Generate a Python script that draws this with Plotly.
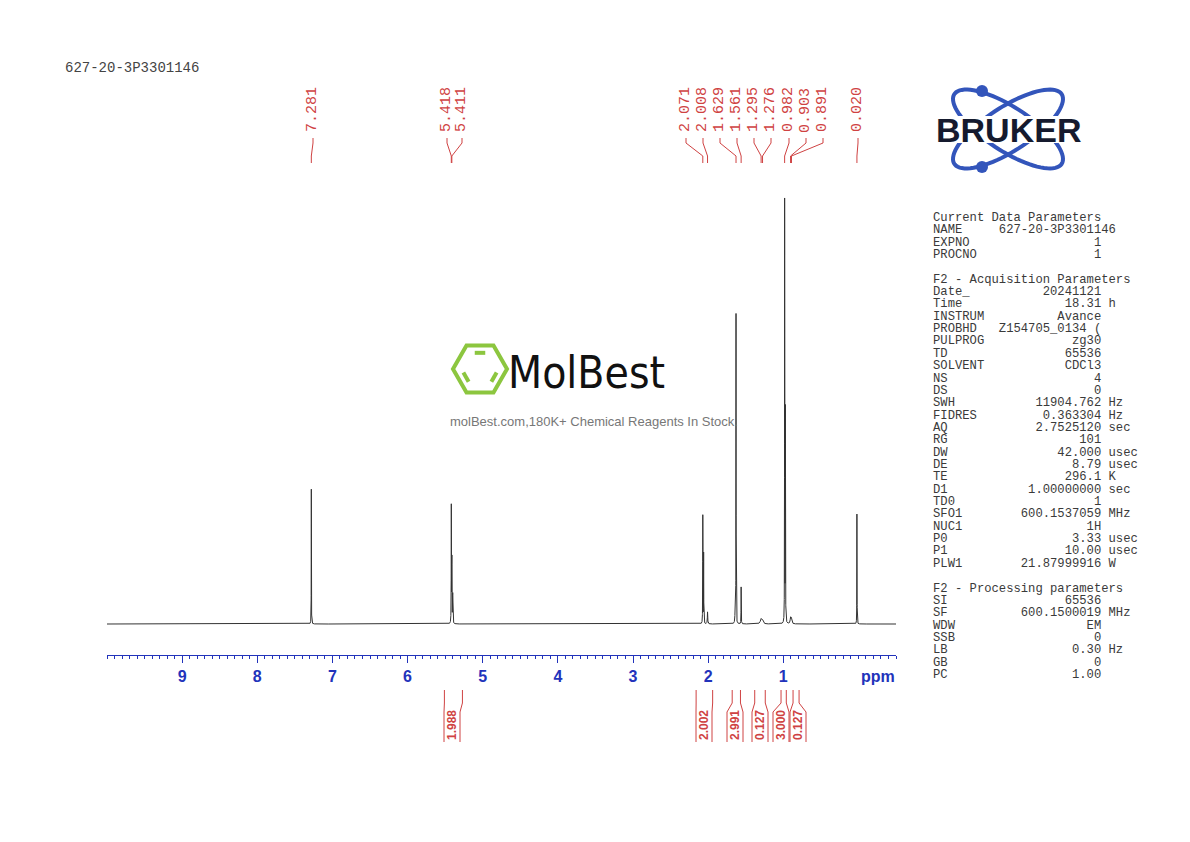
import numpy as np
import plotly.graph_objects as go

W, H = 1190, 842

# peaks: ppm, height, half-width (ppm)
peak_ppm = [7.281, 5.418, 5.411, 5.400, 2.071, 2.060, 2.008, 1.640, 1.629, 1.561,
            1.295, 1.276, 0.982, 0.972, 0.903, 0.891, 0.020]
peak_hgt = [135, 116, 88, 36, 108, 70, 12, 14, 310, 37,
            5, 3, 425, 215, 6, 5, 110]
peak_wid = [0.0012, 0.0015, 0.0015, 0.002, 0.0015, 0.0015, 0.003, 0.004, 0.0012, 0.0015,
            0.012, 0.008, 0.0012, 0.0015, 0.006, 0.006, 0.0012]

label_ppm = [7.281, 5.418, 5.411, 2.071, 2.008, 1.629, 1.561, 1.295, 1.276, 0.982, 0.903, 0.891, 0.020]
label_text = ["7.281", "5.418", "5.411", "2.071", "2.008", "1.629", "1.561", "1.295",
              "1.276", "0.982", "0.903", "0.891", "0.020"]
label_slot = [313, 447, 462, 686, 703, 720, 737, 754, 771, 789, 806, 823, 858]  # px

integ_text = ["1.988", "2.002", "2.991", "0.127", "3.000", "0.127"]
integ_from = [5.51, 2.16, 1.68, 1.38, 1.03, 0.87]
integ_to = [5.27, 1.94, 1.57, 1.24, 0.96, 0.79]
integ_slot = [452, 704, 735, 760, 781, 798]  # px

par_lines = [
    ("Current Data Parameters", "", ""), ("NAME", "627-20-3P3301146", ""), ("EXPNO", "1", ""),
    ("PROCNO", "1", ""), ("", "", ""),
    ("F2 - Acquisition Parameters", "", ""), ("Date_", "20241121", ""), ("Time", "18.31", "h"),
    ("INSTRUM", "Avance", ""), ("PROBHD", "Z154705_0134 (", ""), ("PULPROG", "zg30", ""),
    ("TD", "65536", ""), ("SOLVENT", "CDCl3", ""), ("NS", "4", ""), ("DS", "0", ""),
    ("SWH", "11904.762", "Hz"), ("FIDRES", "0.363304", "Hz"), ("AQ", "2.7525120", "sec"),
    ("RG", "101", ""), ("DW", "42.000", "usec"), ("DE", "8.79", "usec"), ("TE", "296.1", "K"),
    ("D1", "1.00000000", "sec"), ("TD0", "1", ""), ("SFO1", "600.1537059", "MHz"),
    ("NUC1", "1H", ""), ("P0", "3.33", "usec"), ("P1", "10.00", "usec"),
    ("PLW1", "21.87999916", "W"), ("", "", ""),
    ("F2 - Processing parameters", "", ""), ("SI", "65536", ""), ("SF", "600.1500019", "MHz"),
    ("WDW", "EM", ""), ("SSB", "0", ""), ("LB", "0.30", "Hz"), ("GB", "0", ""), ("PC", "1.00", ""),
]

RED = "#cf4242"
BLUE = "#2233bb"

# axis mapping (ppm -> px) for annotation placement
X0, X1 = 107, 896
P0, P1 = 10.0, -0.5
OFF = 8  # page body margin


def ppm_px(p):
    return X0 + (P0 - p) / (P0 - P1) * (X1 - X0)


def px(x):
    return (x - OFF) / W


def py(y):
    return 1 - (y - OFF) / H


def note(xp, yp, text, font, angle=0, xanchor="center"):
    return dict(x=px(xp), y=py(yp), xref="paper", yref="paper", text=text, textangle=angle,
                showarrow=False, xanchor=xanchor, yanchor="middle", font=font)


x = np.linspace(P0, P1, 40000)
y = np.zeros_like(x)
for c, h, w in zip(peak_ppm, peak_hgt, peak_wid):
    y += h * w**2 / ((x - c) ** 2 + w**2)

fig = go.Figure(go.Scatter(x=x, y=y, mode="lines", line=dict(color="#333333", width=1),
                           hoverinfo="skip"))

shapes = []
annos = []

# peak labels + leaders
for t, slot, p in zip(label_text, label_slot, label_ppm):
    annos.append(note(slot, 110, t, dict(family="Liberation Mono", size=15, color=RED), -90))
    pk = ppm_px(p)
    path = (f"M {px(slot)},{py(138)} L {px(slot)},{py(143)} L {px(pk)},{py(156)} "
            f"L {px(pk)},{py(163)}")
    shapes.append(dict(type="path", path=path, xref="paper", yref="paper",
                       line=dict(color=RED, width=1)))

# integrals
for t, a, b, slot in zip(integ_text, integ_from, integ_to, integ_slot):
    xa, xb = ppm_px(a), ppm_px(b)
    for e, bx in ((xa, slot - 8), (xb, slot + 8)):
        path = f"M {px(e)},{py(690)} L {px(e)},{py(703)} L {px(bx)},{py(712)} L {px(bx)},{py(742)}"
        shapes.append(dict(type="path", path=path, xref="paper", yref="paper",
                           line=dict(color=RED, width=1)))
    annos.append(note(slot, 725, f"<b>{t}</b>",
                      dict(family="Liberation Sans", size=12, color=RED), -90))

annos.append(note(878, 676, "<b>ppm</b>", dict(family="Liberation Sans", size=16, color=BLUE)))
annos.append(note(63, 68, "627-20-3P3301146",
                  dict(family="Liberation Mono", size=14, color="#444444"), xanchor="left"))

# parameter block
for i, (name, val, unit) in enumerate(par_lines):
    if not val:
        line = name
    elif len(name.ljust(9) + val) > 23:
        line = name.ljust(9) + val
    else:
        line = name.ljust(8) + val.rjust(15)
    if unit:
        line = line + " " + unit
    if line:
        annos.append(note(931, 218 + i * 12.35, line.replace(" ", "\u00a0"),
                          dict(family="Liberation Mono", size=12.2, color="#3a3a3a"),
                          xanchor="left"))

# MolBest watermark
cx, cy, r = 480, 369, 27
hexpts = [(cx + r * np.cos(np.radians(a)), cy + r * np.sin(np.radians(a))) for a in range(0, 360, 60)]
hp = "M " + " L ".join(f"{px(a)},{py(b)}" for a, b in hexpts) + " Z"
shapes.append(dict(type="path", path=hp, xref="paper", yref="paper",
                   line=dict(color="#8cc63f", width=4)))
ri = 17
for a0 in (240, 0, 120):
    a1 = a0 + 60
    p0 = (cx + ri * np.cos(np.radians(a0 + 12)), cy + ri * np.sin(np.radians(a0 + 12)))
    p1 = (cx + ri * np.cos(np.radians(a1 - 12)), cy + ri * np.sin(np.radians(a1 - 12)))
    shapes.append(dict(type="line", x0=px(p0[0]), y0=py(p0[1]), x1=px(p1[0]), y1=py(p1[1]),
                       xref="paper", yref="paper", line=dict(color="#8cc63f", width=4)))
annos.append(note(586, 372, "MolBest",
                  dict(family="DejaVu Sans Condensed", size=44, color="#111111")))
annos.append(note(594, 421, "molBest.com,180K+ Chemical Reagents In Stock.",
                  dict(family="Liberation Sans", size=13, color="#777777")))

# Bruker logo
bcx, bcy = 1008, 129
for ang in (33, -33):
    t = np.linspace(0, 2 * np.pi, 80)
    ex, ey = 64 * np.cos(t), 22 * np.sin(t)
    ca, sa = np.cos(np.radians(ang)), np.sin(np.radians(ang))
    xs, ys = bcx + ex * ca - ey * sa, bcy + ex * sa + ey * ca
    ep = "M " + " L ".join(f"{px(a)},{py(b)}" for a, b in zip(xs, ys)) + " Z"
    shapes.append(dict(type="path", path=ep, xref="paper", yref="paper",
                       line=dict(color="#3355bb", width=4)))
for dx, dy in ((982, 91), (982, 167)):
    shapes.append(dict(type="circle", x0=px(dx - 6), x1=px(dx + 6), y0=py(dy - 6), y1=py(dy + 6),
                       xref="paper", yref="paper", fillcolor="#3355bb", line=dict(width=0)))
shapes.append(dict(type="rect", x0=px(922), x1=px(1094), y0=py(116), y1=py(143), xref="paper",
                   yref="paper", fillcolor="white", line=dict(width=0)))
annos.append(note(1008, 130, "<b>BRUKER</b>",
                  dict(family="Liberation Sans", size=34, color="#151a2e")))

fig.update_layout(
    width=W, height=H, margin=dict(l=0, r=0, t=0, b=0),
    paper_bgcolor="white", plot_bgcolor="white", showlegend=False,
    shapes=shapes, annotations=annos,
    xaxis=dict(domain=[px(X0), px(X1)], range=[P0, P1], showgrid=False, zeroline=False,
               showline=True, linecolor=BLUE, linewidth=1, ticks="outside", ticklen=7,
               tickcolor=BLUE, tickvals=[9, 8, 7, 6, 5, 4, 3, 2, 1],
               tickfont=dict(family="Liberation Sans", size=16, color=BLUE, weight="bold"),
               minor=dict(ticks="outside", ticklen=3, tickcolor=BLUE, dtick=0.1)),
    yaxis=dict(domain=[py(655), py(190)], range=[-31, 434], visible=False),
)

fig.write_html("out.html")
